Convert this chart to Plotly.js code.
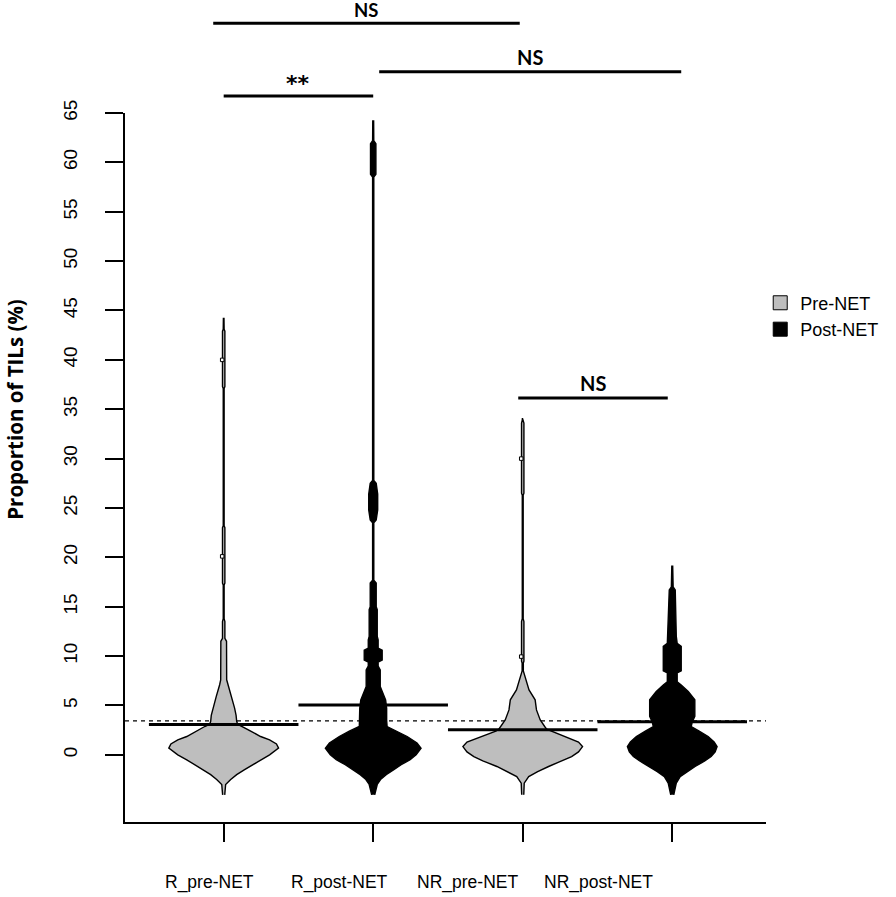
<!DOCTYPE html>
<html><head><meta charset="utf-8">
<script src="https://cdn.plot.ly/plotly-3.0.1.min.js"></script>
<style>html,body{margin:0;padding:0;background:#fff}#chart{width:896px;height:897px}</style>
</head><body><div id="chart"></div>
<script>
// ---- data ----
const categories = ['R_pre-NET', 'R_post-NET', 'NR_pre-NET', 'NR_post-NET'];
const groupPhase = ['Pre-NET', 'Post-NET', 'Pre-NET', 'Post-NET'];
const groupMeans = [3.08, 5.06, 2.53, 3.34];
const overallMean = 3.44;
const yTicks = [0, 5, 10, 15, 20, 25, 30, 35, 40, 45, 50, 55, 60, 65];

// bean density outlines: y value and half-width (in category units)
const beanY_Rpre = [-4.05,-3.0,-2.5,-2.0,-1.5,-1.0,-0.5,0.0,0.68,1.1,1.52,1.86,2.36,2.87,3.1,3.4,4.0,4.73,5.9,7.1,7.6,11.5,11.8,13.5,13.8,17.2,17.4,23.0,23.2,37.1,37.3,42.9,43.1,44.2];
const beanW_Rpre = [0.007,0.013,0.047,0.087,0.14,0.193,0.247,0.307,0.367,0.353,0.307,0.247,0.187,0.127,0.093,0.087,0.083,0.073,0.05,0.027,0.02,0.019,0.008,0.008,0.003,0.003,0.008,0.008,0.003,0.003,0.008,0.008,0.003,0.002];

const beanY_Rpost = [-4.05,-3.0,-2.5,-2.0,-1.5,-1.0,-0.5,0.0,0.68,1.2,1.86,2.4,2.87,3.5,4.72,5.57,6.41,6.91,8.6,9.0,9.4,9.6,10.6,10.8,11.64,12.0,14.7,15.0,17.4,17.7,23.5,23.8,24.8,26.4,27.5,27.8,58.5,58.8,61.9,62.2,64.2];
const beanW_Rpost = [0.01,0.027,0.049,0.087,0.138,0.187,0.247,0.287,0.32,0.293,0.227,0.16,0.093,0.09,0.09,0.083,0.06,0.047,0.047,0.033,0.033,0.06,0.06,0.033,0.033,0.027,0.027,0.02,0.02,0.004,0.004,0.02,0.03,0.03,0.02,0.004,0.004,0.018,0.018,0.004,0.003];

const beanY_NRpre = [-4.05,-2.87,-2.2,-1.7,-1.18,-0.6,-0.17,0.3,0.84,1.3,1.7,2.02,2.4,2.6,2.87,3.54,4.55,5.57,6.58,7.59,8.5,9.3,9.5,13.5,13.8,26.3,26.5,33.6,33.9,34.1];
const beanW_NRpre = [0.007,0.01,0.04,0.1,0.173,0.267,0.327,0.373,0.4,0.373,0.307,0.247,0.18,0.16,0.147,0.117,0.092,0.083,0.042,0.02,0.004,0.004,0.008,0.008,0.003,0.003,0.008,0.008,0.003,0.002];

const beanY_NRpost = [-4.05,-2.87,-2.2,-1.7,-1.18,-0.6,-0.17,0.3,0.84,1.3,1.86,2.4,2.87,3.3,3.9,5.57,6.41,7.08,7.4,8.3,8.5,11.0,11.3,12.0,16.7,17.0,19.1];
const beanW_NRpost = [0.01,0.027,0.053,0.1,0.153,0.22,0.26,0.287,0.3,0.28,0.24,0.18,0.127,0.133,0.151,0.151,0.107,0.06,0.033,0.033,0.06,0.06,0.033,0.027,0.02,0.006,0.003];

// individual highlighted observations
const obsGroup = [0, 0, 2, 2];
const obsValue = [40.0, 20.1, 30.0, 9.95];

// significance comparisons
const compLabels = ['NS', '**', 'NS', 'NS'];
const compFrom = [0.93, 1.0, 2.04, 2.97];
const compTo = [2.98, 2.0, 4.06, 3.97];
const compLevel = [74.08, 66.72, 69.18, 36.14];

// ---- build ----
const catPos = [1, 2, 3, 4];
const phaseColor = {'Pre-NET': '#BEBEBE', 'Post-NET': '#000000'};
const beans = [[beanY_Rpre, beanW_Rpre], [beanY_Rpost, beanW_Rpost], [beanY_NRpre, beanW_NRpre], [beanY_NRpost, beanW_NRpost]];
const yRange = [-6.8, 65];
const yPaper = v => (v - yRange[0]) / (yRange[1] - yRange[0]);

const traces = [];
beans.forEach(([ys, ws], i) => {
  const c = catPos[i];
  const xs = [], yy = [];
  for (let k = 0; k < ys.length; k++) { xs.push(c + ws[k]); yy.push(ys[k]); }
  for (let k = ys.length - 1; k >= 0; k--) { xs.push(c - ws[k]); yy.push(ys[k]); }
  traces.push({type: 'scatter', mode: 'lines', x: xs, y: yy, fill: 'toself',
    fillcolor: phaseColor[groupPhase[i]], line: {color: '#000', width: 1.4},
    showlegend: false, hoverinfo: 'skip'});
});
traces.push({type: 'scatter', mode: 'markers',
  x: obsGroup.map(g => catPos[g] - 0.01), y: obsValue,
  marker: {symbol: 'square', size: 3.5, color: '#fff', line: {color: '#000', width: 1}},
  showlegend: false, hoverinfo: 'skip'});
groupMeans.forEach((m, i) => {
  traces.push({type: 'scatter', mode: 'lines', x: [catPos[i] - 0.5, catPos[i] + 0.5], y: [m, m],
    line: {color: '#000', width: 3}, showlegend: false, hoverinfo: 'skip'});
});
['Pre-NET', 'Post-NET'].forEach(p => {
  traces.push({type: 'scatter', mode: 'markers', x: [null], y: [null], name: p,
    marker: {symbol: 'square', size: 14, color: phaseColor[p], line: {color: '#000', width: 1}}});
});

const shapes = [{type: 'line', xref: 'paper', yref: 'y', x0: 0, x1: 1, y0: overallMean, y1: overallMean,
  line: {color: '#000', width: 1.2, dash: '4px,4px'}, layer: 'below'}];
const annotations = [];
compLabels.forEach((lab, i) => {
  shapes.push({type: 'line', xref: 'x', yref: 'paper', x0: compFrom[i], x1: compTo[i],
    y0: yPaper(compLevel[i]), y1: yPaper(compLevel[i]), line: {color: '#000', width: 3}});
  const star = lab === '**';
  let ya = yPaper(compLevel[i] + (star ? -0.25 : 0.05));
  let anchor = 'bottom';
  if (ya > 1.115) { ya = Math.min(ya, 1.157); }
  annotations.push({xref: 'x', yref: 'paper', x: (compFrom[i] + compTo[i]) / 2,
    y: ya, yanchor: anchor, xanchor: 'center', showarrow: false,
    text: '<b>' + lab + '</b>',
    font: {family: star ? 'DejaVu Sans, sans-serif' : 'Lato, Open Sans, sans-serif',
      size: star ? 22 : (ya > 1.115 ? 18.5 : 20), color: '#000'}});
});
const labelPos = [0.907, 1.773, 2.633, 3.507];
categories.forEach((c, i) => {
  annotations.push({xref: 'x', yref: 'paper', x: labelPos[i], y: -0.086, yanchor: 'middle', xanchor: 'center',
    showarrow: false, text: c, font: {family: 'Liberation Sans, Arial, sans-serif', size: 17.5, color: '#000'}});
});
annotations.push({xref: 'paper', yref: 'paper', x: -0.171, y: 0.582, xanchor: 'center', yanchor: 'middle',
  textangle: -90, showarrow: false, text: '<b>Proportion of TILs (%)</b>',
  font: {family: 'Open Sans, Lato, sans-serif', size: 20.5, color: '#000'}});

const layout = {
  width: 896, height: 897,
  margin: {l: 125, r: 128, t: 113, b: 75},
  paper_bgcolor: '#fff', plot_bgcolor: '#fff',
  showlegend: true,
  legend: {x: 0.991, xanchor: 'left', y: 0.758, yanchor: 'top', bgcolor: 'rgba(0,0,0,0)',
    font: {family: 'Liberation Sans, Arial, sans-serif', size: 18, color: '#000'}},
  xaxis: {range: [0.34, 4.627], tickvals: catPos, ticktext: ['', '', '', ''], ticks: 'outside',
    ticklen: 18, tickwidth: 2, tickcolor: '#000', showline: true, linecolor: '#000', linewidth: 2,
    showgrid: false, zeroline: false},
  yaxis: {range: yRange, tickvals: yTicks, ticks: 'outside', ticklen: 18, tickwidth: 2, tickcolor: '#000',
    showline: true, linecolor: '#000', linewidth: 2, showgrid: false, zeroline: false, tickangle: -90,
    ticklabelstandoff: 20,
    tickfont: {family: 'Liberation Sans, Arial, sans-serif', size: 19, color: '#000'}},
  shapes: shapes, annotations: annotations
};
Plotly.newPlot('chart', traces, layout, {displayModeBar: false, staticPlot: true});
</script></body></html>
